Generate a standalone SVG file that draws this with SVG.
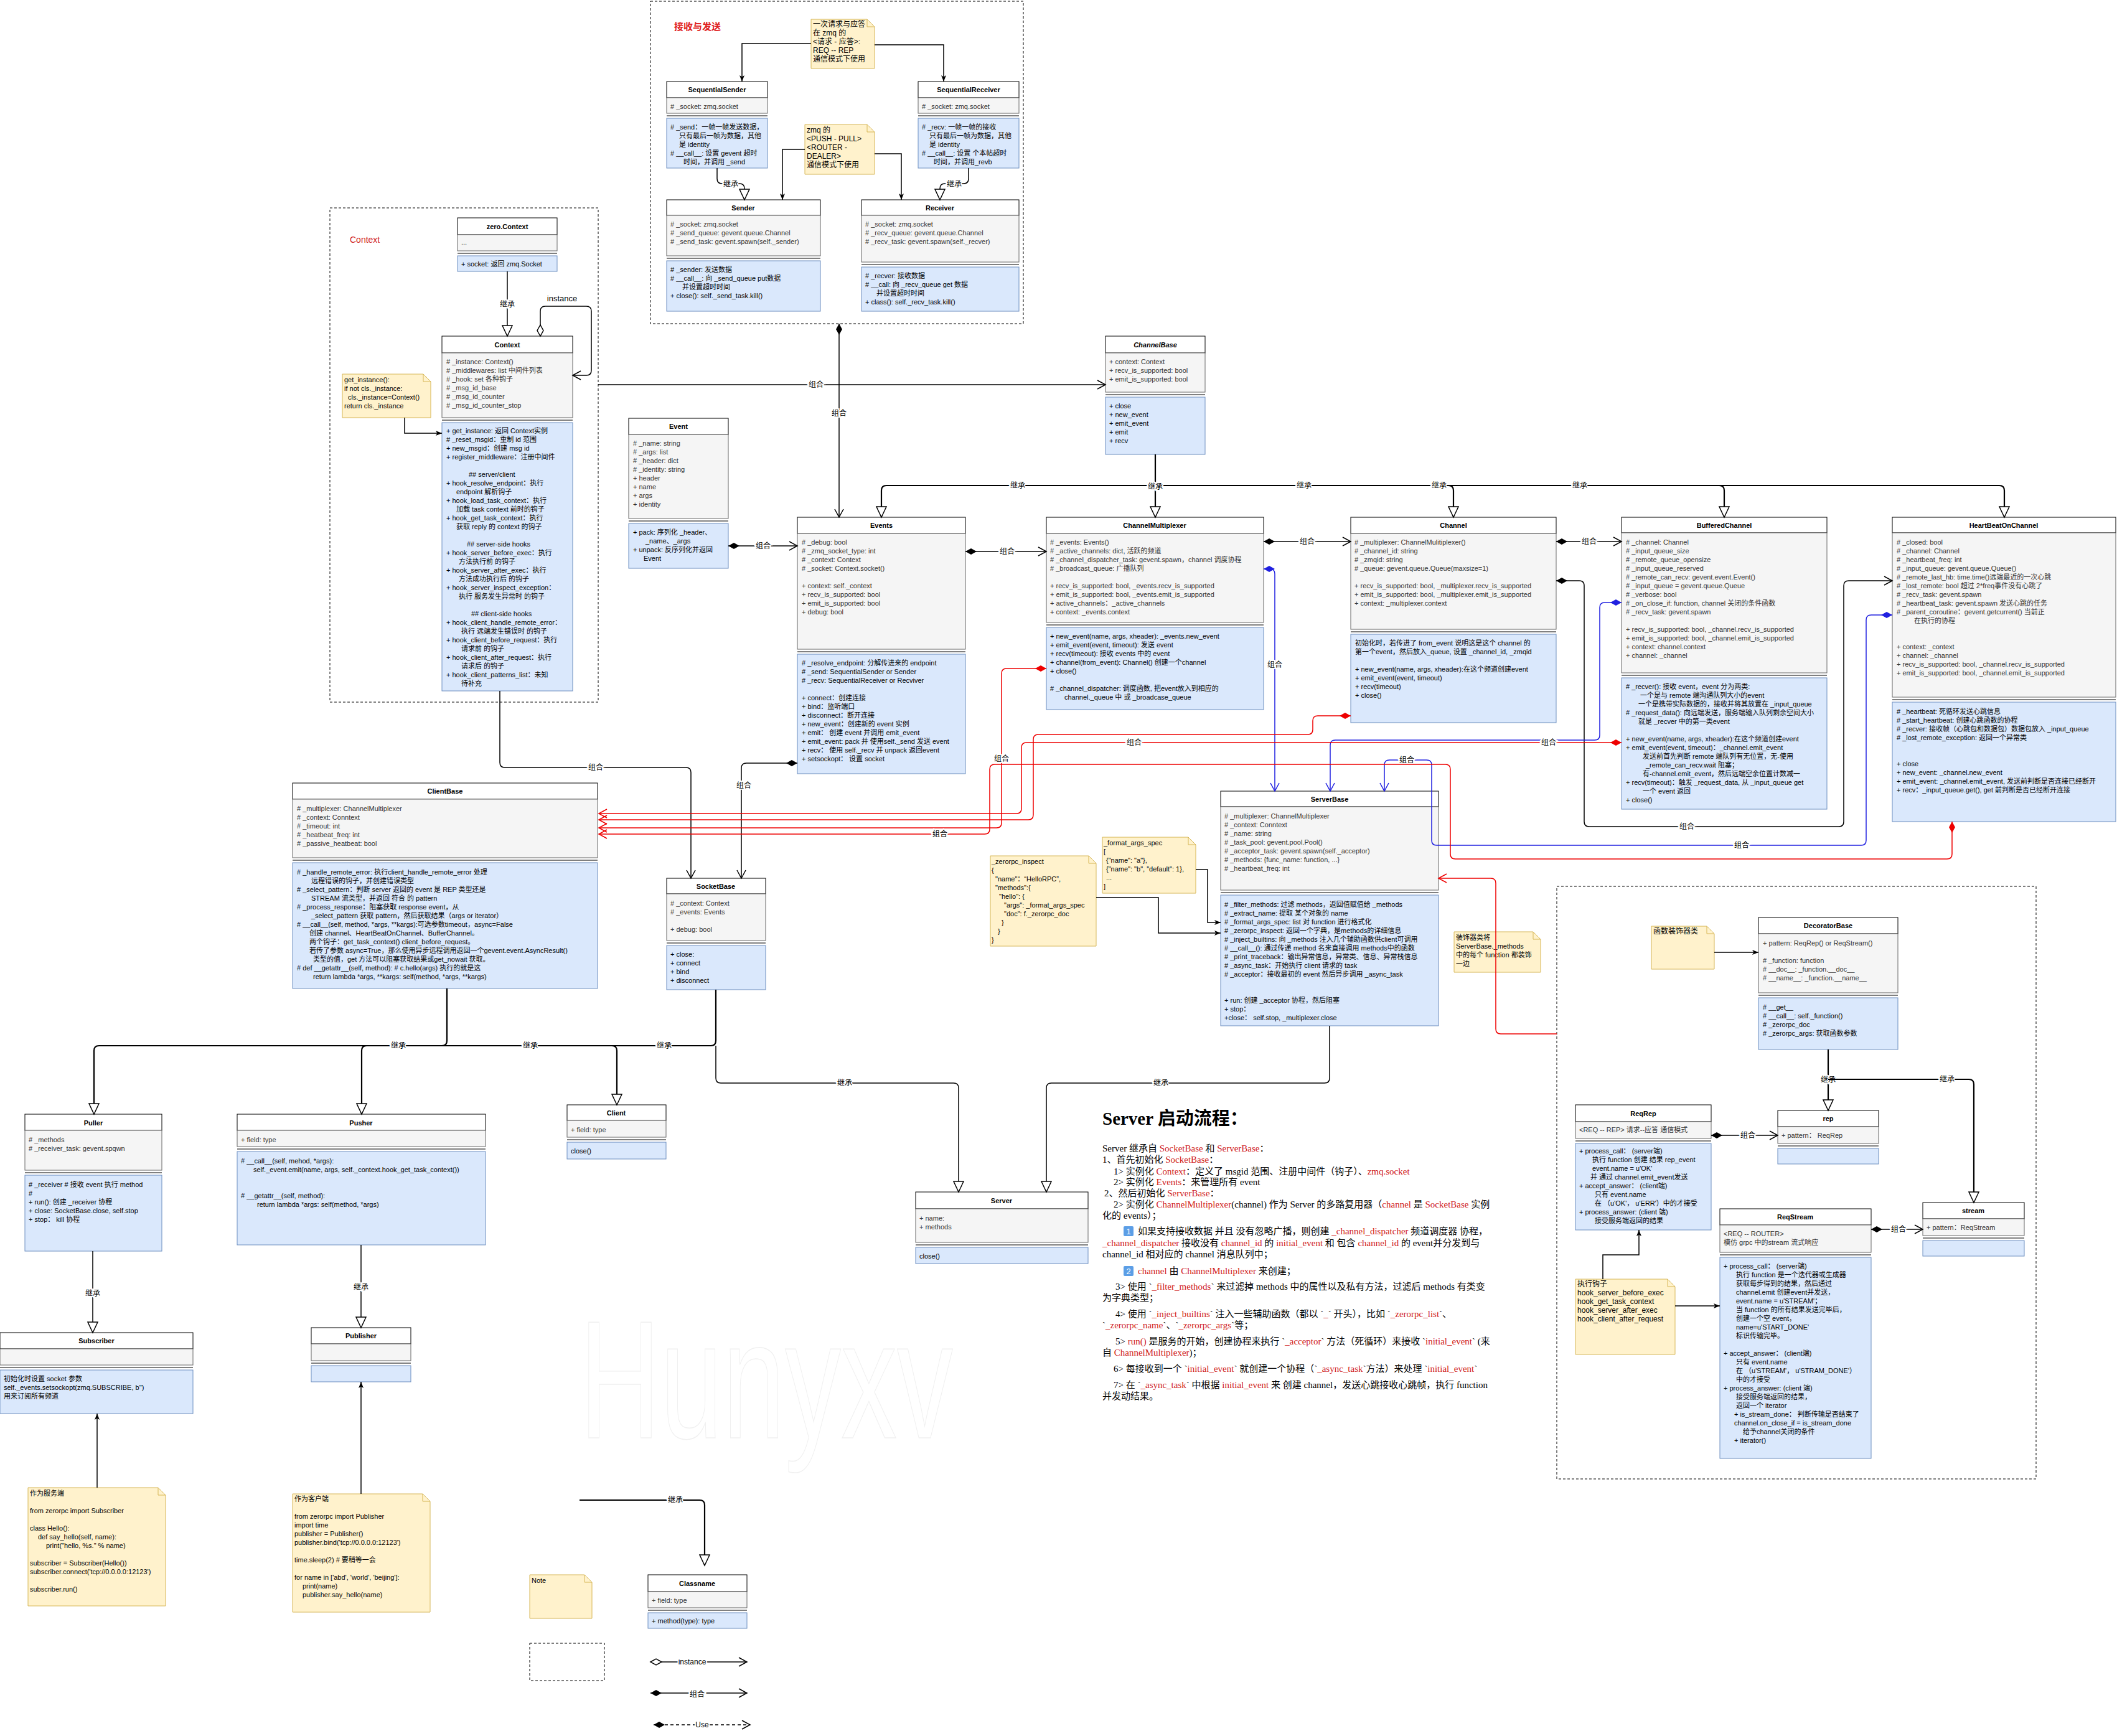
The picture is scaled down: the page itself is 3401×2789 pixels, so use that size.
<svg xmlns="http://www.w3.org/2000/svg" width="3401" height="2789" viewBox="0 0 3401 2789">
<defs>
<style>
.h{fill:#fff;stroke:#000;stroke-width:1}
.a{fill:#f5f5f5;stroke:#666;stroke-width:1}
.m{fill:#dae8fc;stroke:#6c8ebf;stroke-width:1}
.sp{fill:#fff;stroke:none}
.s{stroke:#000;stroke-width:1}
.n{fill:#fff2cc;stroke:#d6b656;stroke-width:1}
.g{fill:none;stroke:#000;stroke-width:1;stroke-dasharray:4 3}
text{font-family:"Liberation Sans","Noto Sans CJK SC",sans-serif;font-size:11px}
.ta{fill:#333}
.tm{fill:#000}
.tt{font-weight:bold;text-anchor:middle;fill:#000}
.e{fill:none;stroke:#000;stroke-width:1.5}
.ek{fill:none;stroke:#000;stroke-width:2.2}
.er{fill:none;stroke:#e00;stroke-width:1.5}
.eb{fill:none;stroke:#2020e0;stroke-width:1.5}
.lb{font-size:12px;text-anchor:middle;fill:#000;stroke:#fff;stroke-width:4;paint-order:stroke;dominant-baseline:central}
.bt{font-family:"Liberation Serif","Noto Sans CJK SC",serif;font-size:15px;fill:#000}
.r{fill:#d02020}
</style>
<marker id="tri" markerUnits="userSpaceOnUse" markerWidth="22" markerHeight="20" refX="18" refY="9" orient="auto" overflow="visible"><path d="M1,1 L18,9 L1,17 Z" fill="#fff" stroke="#000" stroke-width="1.5"/></marker>
<marker id="oa" markerUnits="userSpaceOnUse" markerWidth="18" markerHeight="16" refX="14" refY="7" orient="auto" overflow="visible"><path d="M1,0 L14,7 L1,14" fill="none" stroke="#000" stroke-width="1.5"/></marker>
<marker id="oar" markerUnits="userSpaceOnUse" markerWidth="18" markerHeight="16" refX="14" refY="7" orient="auto" overflow="visible"><path d="M1,0 L14,7 L1,14" fill="none" stroke="#e00" stroke-width="1.5"/></marker>
<marker id="oab" markerUnits="userSpaceOnUse" markerWidth="18" markerHeight="16" refX="14" refY="7" orient="auto" overflow="visible"><path d="M1,0 L14,7 L1,14" fill="none" stroke="#2020e0" stroke-width="1.5"/></marker>
<marker id="fd" markerUnits="userSpaceOnUse" markerWidth="20" markerHeight="12" refX="0" refY="5" orient="auto" overflow="visible"><path d="M0,5 L9,0 L18,5 L9,10 Z" fill="#000"/></marker>
<marker id="fdr" markerUnits="userSpaceOnUse" markerWidth="20" markerHeight="12" refX="0" refY="5" orient="auto" overflow="visible"><path d="M0,5 L9,0 L18,5 L9,10 Z" fill="#e00"/></marker>
<marker id="fdb" markerUnits="userSpaceOnUse" markerWidth="20" markerHeight="12" refX="0" refY="5" orient="auto" overflow="visible"><path d="M0,5 L9,0 L18,5 L9,10 Z" fill="#2020e0"/></marker>
<marker id="od" markerUnits="userSpaceOnUse" markerWidth="20" markerHeight="12" refX="0" refY="5" orient="auto" overflow="visible"><path d="M0,5 L9,0 L18,5 L9,10 Z" fill="#fff" stroke="#000" stroke-width="1.5"/></marker>
<marker id="ac" markerUnits="userSpaceOnUse" markerWidth="12" markerHeight="10" refX="10" refY="4" orient="auto" overflow="visible"><path d="M0,0 L10,4 L0,8 L2.5,4 Z" fill="#000"/></marker>
<clipPath id="c1"><rect x="1071" y="190" width="162" height="80"/></clipPath>
<clipPath id="c2"><rect x="1475" y="190" width="162" height="80"/></clipPath>
<clipPath id="c3"><rect x="1281" y="1051" width="270" height="192"/></clipPath>
<clipPath id="c4"><rect x="1961" y="1438" width="350" height="210"/></clipPath>
<clipPath id="c5"><rect x="2605" y="1089" width="330" height="211"/></clipPath>
<clipPath id="c6"><rect x="2763" y="2020" width="243" height="323"/></clipPath>
<clipPath id="c7"><rect x="1303" y="31" width="102" height="79"/></clipPath>
</defs>
<rect width="3401" height="2789" fill="#fff"/>

<!-- groups -->
<g id="grp-sendrecv"><rect class="g" x="1045" y="2" width="599" height="518"/><text x="1083" y="48" style="font-size:15px;font-weight:bold;fill:#e02020">接收与发送</text></g>
<g id="grp-context"><rect class="g" x="530" y="334" width="431" height="794"/><text x="562" y="390" style="font-size:14px;fill:#d02020">Context</text></g>
<g id="grp-decorator"><rect class="g" x="2501" y="1424" width="770" height="952"/></g>
<text x="1231" y="2310" text-anchor="middle" textLength="600" lengthAdjust="spacingAndGlyphs" style="font-size:270px;fill:#fff;stroke:#f0f0f0;stroke-width:1.5">Hunyxv</text>

<!-- notes -->
<g id="note-reqrep"><path class="n" d="M1303,31 H1393 L1405,43 V110 H1303 Z"/><path d="M1393,31 V43 H1405" fill="none" stroke="#d6b656"/><text class="tm" style="font-size:12px" clip-path="url(#c7)"><tspan x="1306" y="43">一次请求与应答</tspan><tspan x="1306" dy="14">在 zmq 的</tspan><tspan x="1306" dy="14">&lt;请求 - 应答&gt;:</tspan><tspan x="1306" dy="14">REQ -- REP</tspan><tspan x="1306" dy="14">通信模式下使用</tspan></text></g>
<g id="note-pushpull"><path class="n" d="M1293,200 H1393 L1405,212 V280 H1293 Z"/><path d="M1393,200 V212 H1405" fill="none" stroke="#d6b656"/><text class="tm" style="font-size:12px"><tspan x="1296" y="213">zmq 的</tspan><tspan x="1296" dy="14">&lt;PUSH - PULL&gt;</tspan><tspan x="1296" dy="14">&lt;ROUTER -</tspan><tspan x="1296" dy="14">DEALER&gt;</tspan><tspan x="1296" dy="14">通信模式下使用</tspan></text></g>
<g id="note-getinstance"><path class="n" d="M550,601 H680 L692,613 V671 H550 Z"/><path d="M680,601 V613 H692" fill="none" stroke="#d6b656"/><text class="tm"><tspan x="553" y="614">get_instance():</tspan><tspan x="553" dy="14">if not cls._instance:</tspan><tspan x="559" dy="14">cls._instance=Context()</tspan><tspan x="553" dy="14">return cls._instance</tspan></text></g>
<g id="note-formatargs"><path class="n" d="M1771,1345 H1909 L1921,1357 V1435 H1771 Z"/><path d="M1909,1345 V1357 H1921" fill="none" stroke="#d6b656"/><text class="tm"><tspan x="1773" y="1358">_format_args_spec</tspan><tspan x="1773" dy="14">[</tspan><tspan x="1777" dy="14">{"name": "a"},</tspan><tspan x="1777" dy="14">{"name": "b", "default": 1},</tspan><tspan x="1777" dy="14">...</tspan><tspan x="1773" dy="14">]</tspan></text></g>
<g id="note-inspect"><path class="n" d="M1591,1375 H1749 L1761,1387 V1520 H1591 Z"/><path d="M1749,1375 V1387 H1761" fill="none" stroke="#d6b656"/><text class="tm"><tspan x="1593" y="1388">_zerorpc_inspect</tspan><tspan x="1593" dy="14">{</tspan><tspan x="1599" dy="14">"name"：“HelloRPC”,</tspan><tspan x="1599" dy="14">"methods":{</tspan><tspan x="1605" dy="14">"hello": {</tspan><tspan x="1613" dy="14">"args": _format_args_spec</tspan><tspan x="1613" dy="14">"doc": f._zerorpc_doc</tspan><tspan x="1609" dy="14">}</tspan><tspan x="1603" dy="14">}</tspan><tspan x="1593" dy="14">}</tspan></text></g>
<g id="note-decorate"><path class="n" d="M2336,1497 H2463 L2475,1509 V1562 H2336 Z"/><path d="M2463,1497 V1509 H2475" fill="none" stroke="#d6b656"/><text class="tm"><tspan x="2339" y="1510">装饰器类将</tspan><tspan x="2339" dy="14">ServerBase._methods</tspan><tspan x="2339" dy="14">中的每个 function 都装饰</tspan><tspan x="2339" dy="14">一边</tspan></text></g>
<g id="note-funcdeco"><path class="n" d="M2653,1488 H2742 L2754,1500 V1557 H2653 Z"/><path d="M2742,1488 V1500 H2754" fill="none" stroke="#d6b656"/><text class="tm" style="font-size:12px"><tspan x="2656" y="1500">函数装饰器类</tspan></text></g>
<g id="note-hooks"><path class="n" d="M2531,2055 H2679 L2691,2067 V2176 H2531 Z"/><path d="M2679,2055 V2067 H2691" fill="none" stroke="#d6b656"/><text class="tm" style="font-size:12px"><tspan x="2534" y="2067">执行钩子</tspan><tspan x="2534" dy="14">hook_server_before_exec</tspan><tspan x="2534" dy="14">hook_get_task_context</tspan><tspan x="2534" dy="14">hook_server_after_exec</tspan><tspan x="2534" dy="14">hook_client_after_request</tspan></text></g>
<g id="note-server"><path class="n" d="M45,2390 H254 L266,2402 V2580 H45 Z"/><path d="M254,2390 V2402 H266" fill="none" stroke="#d6b656"/><text class="tm"><tspan x="48" y="2403">作为服务端</tspan><tspan x="48" dy="28">from zerorpc import Subscriber</tspan><tspan x="48" dy="28">class Hello():</tspan><tspan x="61" dy="14">def say_hello(self, name):</tspan><tspan x="74" dy="14">print("hello, %s." % name)</tspan><tspan x="48" dy="28">subscriber = Subscriber(Hello())</tspan><tspan x="48" dy="14">subscriber.connect('tcp://0.0.0.0:12123')</tspan><tspan x="48" dy="28">subscriber.run()</tspan></text></g>
<g id="note-client"><path class="n" d="M470,2400 H679 L691,2412 V2590 H470 Z"/><path d="M679,2400 V2412 H691" fill="none" stroke="#d6b656"/><text class="tm"><tspan x="473" y="2412">作为客户端</tspan><tspan x="473" dy="28">from zerorpc import Publisher</tspan><tspan x="473" dy="14">import time</tspan><tspan x="473" dy="14">publisher = Publisher()</tspan><tspan x="473" dy="14">publisher.bind('tcp://0.0.0.0:12123')</tspan><tspan x="473" dy="28">time.sleep(2)  # 要稍等一会</tspan><tspan x="473" dy="28">for name in ['abd', 'world', 'beijing']:</tspan><tspan x="486" dy="14">print(name)</tspan><tspan x="486" dy="14">publisher.say_hello(name)</tspan></text></g>
<g id="note-legend"><path class="n" d="M851,2530 H939 L951,2542 V2600 H851 Z"/><path d="M939,2530 V2542 H951" fill="none" stroke="#d6b656"/><text class="tm"><tspan x="854" y="2543">Note</tspan></text></g>
<g id="legend-dashed"><rect class="g" x="851" y="2640" width="120" height="60"/></g>

<!-- classes -->
<g id="n-SequentialSender"><rect class="h" x="1071" y="131" width="162" height="26"/><rect class="a" x="1071" y="157" width="162" height="25"/><line class="s" x1="1071" y1="186" x2="1233" y2="186"/><rect class="m" x="1071" y="190" width="162" height="80"/><text class="tt" x="1152" y="148">SequentialSender</text><text class="ta" x="1077" y="175"># _socket: zmq.socket</text><text class="tm" clip-path="url(#c1)"><tspan x="1077" y="208"># _send：一帧一帧发送数据，</tspan><tspan x="1091" dy="14">只有最后一帧为数据，其他</tspan><tspan x="1091" dy="14">是 identity</tspan><tspan x="1077" dy="14"># __call__: 设置 gevent 超时</tspan><tspan x="1098" dy="14">时间，并调用 _send</tspan></text></g>
<g id="n-SequentialReceiver"><rect class="h" x="1475" y="131" width="162" height="26"/><rect class="a" x="1475" y="157" width="162" height="25"/><line class="s" x1="1475" y1="186" x2="1637" y2="186"/><rect class="m" x="1475" y="190" width="162" height="80"/><text class="tt" x="1556" y="148">SequentialReceiver</text><text class="ta" x="1481" y="175"># _socket: zmq.socket</text><text class="tm" clip-path="url(#c2)"><tspan x="1481" y="208"># _recv: 一帧一帧的接收</tspan><tspan x="1493" dy="14">只有最后一帧为数据，其他</tspan><tspan x="1493" dy="14">是 identity</tspan><tspan x="1481" dy="14"># __call__: 设置 个本帖超时</tspan><tspan x="1500" dy="14">时间，并调用_revb</tspan></text></g>
<g id="n-Sender"><rect class="h" x="1071" y="321" width="247" height="25"/><rect class="a" x="1071" y="346" width="247" height="65"/><line class="s" x1="1071" y1="415" x2="1318" y2="415"/><rect class="m" x="1071" y="419" width="247" height="81"/><text class="tt" x="1194" y="338">Sender</text><text class="ta"><tspan x="1077" y="364"># _socket: zmq.socket</tspan><tspan x="1077" dy="14"># _send_queue: gevent.queue.Channel</tspan><tspan x="1077" dy="14"># _send_task: gevent.spawn(self._sender)</tspan></text><text class="tm"><tspan x="1077" y="437"># _sender: 发送数据</tspan><tspan x="1077" dy="14"># __call__: 向 _send_queue put数据</tspan><tspan x="1096" dy="14">并设置超时时间</tspan><tspan x="1077" dy="14">+ close(): self._send_task.kill()</tspan></text></g>
<g id="n-Receiver"><rect class="h" x="1384" y="321" width="253" height="25"/><rect class="a" x="1384" y="346" width="253" height="75"/><line class="s" x1="1384" y1="425" x2="1637" y2="425"/><rect class="m" x="1384" y="429" width="253" height="71"/><text class="tt" x="1510" y="338">Receiver</text><text class="ta"><tspan x="1390" y="364"># _socket: zmq.socket</tspan><tspan x="1390" dy="14"># _recv_queue: gevent.queue.Channel</tspan><tspan x="1390" dy="14"># _recv_task: gevent.spawn(self._recver)</tspan></text><text class="tm"><tspan x="1390" y="447"># _recver: 接收数据</tspan><tspan x="1390" dy="14"># __call: 向 _recv_queue get 数据</tspan><tspan x="1408" dy="14">并设置超时时间</tspan><tspan x="1390" dy="14">+ class(): self._recv_task.kill()</tspan></text></g>
<g id="n-zeroContext"><rect class="h" x="735" y="350" width="160" height="27"/><rect class="a" x="735" y="377" width="160" height="26"/><line class="s" x1="735" y1="407" x2="895" y2="407"/><rect class="m" x="735" y="411" width="160" height="25"/><text class="tt" x="815" y="368">zero.Context</text><text class="ta" x="741" y="393">...</text><text class="tm" x="741" y="428">+ socket: 返回 zmq.Socket</text></g>
<g id="n-Context"><rect class="h" x="710" y="540" width="210" height="27"/><rect class="a" x="710" y="567" width="210" height="104"/><line class="s" x1="710" y1="675" x2="920" y2="675"/><rect class="m" x="710" y="679" width="210" height="431"/><text class="tt" x="815" y="558">Context</text><text class="ta"><tspan x="717" y="585"># _instance: Context()</tspan><tspan x="717" dy="14"># _middlewares: list 中间件列表</tspan><tspan x="717" dy="14"># _hook: set 各种钩子</tspan><tspan x="717" dy="14"># _msg_id_base</tspan><tspan x="717" dy="14"># _msg_id_counter</tspan><tspan x="717" dy="14"># _msg_id_counter_stop</tspan></text><text class="tm"><tspan x="717" y="696">+ get_instance: 返回 Context实例</tspan><tspan x="717" dy="14">#  _reset_msgid：重制 id 范围</tspan><tspan x="717" dy="14">+ new_msgid：创建 msg id</tspan><tspan x="717" dy="14">+ register_middleware：注册中间件</tspan><tspan x="753" dy="28">## server/client</tspan><tspan x="717" dy="14">+ hook_resolve_endpoint：执行</tspan><tspan x="733" dy="14">endpoint 解析钩子</tspan><tspan x="717" dy="14">+ hook_load_task_context：执行</tspan><tspan x="733" dy="14">加载 task context 前时的钩子</tspan><tspan x="717" dy="14">+ hook_get_task_context：执行</tspan><tspan x="733" dy="14">获取 reply 的 context 的钩子</tspan><tspan x="750" dy="28">## server-side hooks</tspan><tspan x="717" dy="14">+  hook_server_before_exec：执行</tspan><tspan x="737" dy="14">方法执行前 的钩子</tspan><tspan x="717" dy="14">+ hook_server_after_exec：执行</tspan><tspan x="737" dy="14">方法成功执行后 的钩子</tspan><tspan x="717" dy="14">+ hook_server_inspect_exception：</tspan><tspan x="737" dy="14">执行 服务发生异常时 的钩子</tspan><tspan x="757" dy="28">## client-side hooks</tspan><tspan x="717" dy="14">+ hook_client_handle_remote_error：</tspan><tspan x="741" dy="14">执行 远端发生错误时 的钩子</tspan><tspan x="717" dy="14">+ hook_client_before_request：执行</tspan><tspan x="741" dy="14">请求前 的钩子</tspan><tspan x="717" dy="14">+ hook_client_after_request：执行</tspan><tspan x="741" dy="14">请求后 的钩子</tspan><tspan x="717" dy="14">+ hook_client_patterns_list：未知</tspan><tspan x="741" dy="14">待补充</tspan></text></g>
<g id="n-Event"><rect class="h" x="1010" y="672" width="160" height="26"/><rect class="a" x="1010" y="698" width="160" height="135"/><line class="s" x1="1010" y1="837" x2="1170" y2="837"/><rect class="m" x="1010" y="841" width="160" height="72"/><text class="tt" x="1090" y="689">Event</text><text class="ta"><tspan x="1017" y="716"># _name: string</tspan><tspan x="1017" dy="14"># _args: list</tspan><tspan x="1017" dy="14"># _header: dict</tspan><tspan x="1017" dy="14"># _identity: string</tspan><tspan x="1017" dy="14">+ header</tspan><tspan x="1017" dy="14">+ name</tspan><tspan x="1017" dy="14">+ args</tspan><tspan x="1017" dy="14">+ identity</tspan></text><text class="tm"><tspan x="1017" y="859">+ pack: 序列化 _header、</tspan><tspan x="1037" dy="14">_name、_args</tspan><tspan x="1017" dy="14">+ unpack: 反序列化并返回</tspan><tspan x="1034" dy="14">Event</tspan></text></g>
<g id="n-Events"><rect class="h" x="1281" y="831" width="270" height="26"/><rect class="a" x="1281" y="857" width="270" height="186"/><line class="s" x1="1281" y1="1047" x2="1551" y2="1047"/><rect class="m" x="1281" y="1051" width="270" height="192"/><text class="tt" x="1416" y="848">Events</text><text class="ta"><tspan x="1288" y="875"># _debug: bool</tspan><tspan x="1288" dy="14"># _zmq_socket_type: int</tspan><tspan x="1288" dy="14"># _context: Context</tspan><tspan x="1288" dy="14"># _socket: Context.socket()</tspan><tspan x="1288" dy="28">+ context: self._context</tspan><tspan x="1288" dy="14">+ recv_is_supported: bool</tspan><tspan x="1288" dy="14">+ emit_is_supported: bool</tspan><tspan x="1288" dy="14">+ debug: bool</tspan></text><text class="tm" clip-path="url(#c3)"><tspan x="1288" y="1069"># _resolve_endpoint: 分解传进来的 endpoint</tspan><tspan x="1288" dy="14"># _send: SequentialSender or Sender</tspan><tspan x="1288" dy="14"># _recv: SequentialReceiver or Recviver</tspan><tspan x="1288" dy="28">+ connect：创建连接</tspan><tspan x="1288" dy="14">+ bind：监听端口</tspan><tspan x="1288" dy="14">+ disconnect：断开连接</tspan><tspan x="1288" dy="14">+ new_event：创建新的 event 实例</tspan><tspan x="1288" dy="14">+ emit：  创建 event 并调用 emit_event</tspan><tspan x="1288" dy="14">+ emit_event:  pack 并 使用self._send 发送 event</tspan><tspan x="1288" dy="14">+ recv：  使用 self._recv 并 unpack 返回event</tspan><tspan x="1288" dy="14">+ setsockopt：  设置 socket</tspan></text></g>
<g id="n-ChannelBase"><rect class="h" x="1776" y="540" width="160" height="27"/><rect class="a" x="1776" y="567" width="160" height="63"/><line class="s" x1="1776" y1="634" x2="1936" y2="634"/><rect class="m" x="1776" y="638" width="160" height="92"/><text class="tt" x="1856" y="558" font-style="italic">ChannelBase</text><text class="ta"><tspan x="1782" y="585">+ context: Context</tspan><tspan x="1782" dy="14">+ recv_is_supported: bool</tspan><tspan x="1782" dy="14">+ emit_is_supported: bool</tspan></text><text class="tm"><tspan x="1782" y="656">+ close</tspan><tspan x="1782" dy="14">+ new_event</tspan><tspan x="1782" dy="14">+ emit_event</tspan><tspan x="1782" dy="14">+ emit</tspan><tspan x="1782" dy="14">+ recv</tspan></text></g>
<g id="n-ChannelMultiplexer"><rect class="h" x="1681" y="831" width="349" height="26"/><rect class="a" x="1681" y="857" width="349" height="143"/><line class="s" x1="1681" y1="1004" x2="2030" y2="1004"/><rect class="m" x="1681" y="1008" width="349" height="132"/><text class="tt" x="1855" y="848">ChannelMultiplexer</text><text class="ta"><tspan x="1687" y="875"># _events: Events()</tspan><tspan x="1687" dy="14"># _active_channels: dict, 活跃的频道</tspan><tspan x="1687" dy="14"># _channel_dispatcher_task: gevent.spawn，channel 调度协程</tspan><tspan x="1687" dy="14"># _broadcast_queue: 广播队列</tspan><tspan x="1687" dy="28">+ recv_is_supported: bool, _events.recv_is_supported</tspan><tspan x="1687" dy="14">+ emit_is_supported: bool, _events.emit_is_supported</tspan><tspan x="1687" dy="14">+ active_channels：_active_channels</tspan><tspan x="1687" dy="14">+ context: _events.context</tspan></text><text class="tm"><tspan x="1687" y="1026">+ new_event(name, args, xheader): _events.new_event</tspan><tspan x="1687" dy="14">+ emit_event(event, timeout): 发送 event</tspan><tspan x="1687" dy="14">+ recv(timeout): 接收 events 中的 event</tspan><tspan x="1687" dy="14">+ channel(from_event): Channel() 创建一个channel</tspan><tspan x="1687" dy="14">+ close()</tspan><tspan x="1687" dy="28"># _channel_dispatcher: 调度函数, 把event放入到相应的</tspan><tspan x="1710" dy="14">channel._queue 中 或 _broadcase_queue</tspan></text></g>
<g id="n-Channel"><rect class="h" x="2170" y="831" width="330" height="26"/><rect class="a" x="2170" y="857" width="330" height="154"/><line class="s" x1="2170" y1="1015" x2="2500" y2="1015"/><rect class="m" x="2170" y="1019" width="330" height="142"/><text class="tt" x="2335" y="848">Channel</text><text class="ta"><tspan x="2176" y="875"># _multiplexer: ChannelMulitiplexer()</tspan><tspan x="2176" dy="14"># _channel_id: string</tspan><tspan x="2176" dy="14"># _zmqid: string</tspan><tspan x="2176" dy="14"># _queue: gevent.queue.Queue(maxsize=1)</tspan><tspan x="2176" dy="28">+ recv_is_supported: bool, _multiplexer.recv_is_supported</tspan><tspan x="2176" dy="14">+ emit_is_supported: bool, _multiplexer.emit_is_supported</tspan><tspan x="2176" dy="14">+ context: _multiplexer.context</tspan></text><text class="tm"><tspan x="2177" y="1037">初始化时，若传进了 from_event 说明这是这个 channel 的</tspan><tspan x="2177" dy="14">第一个event，然后放入_queue, 设置 _channel_id, _zmqid</tspan><tspan x="2177" dy="28">+ new_event(name, args, xheader):在这个频道创建event</tspan><tspan x="2177" dy="14">+ emit_event(event, timeout)</tspan><tspan x="2177" dy="14">+ recv(timeout)</tspan><tspan x="2177" dy="14">+ close()</tspan></text></g>
<g id="n-BufferedChannel"><rect class="h" x="2605" y="831" width="330" height="25"/><rect class="a" x="2605" y="856" width="330" height="225"/><line class="s" x1="2605" y1="1085" x2="2935" y2="1085"/><rect class="m" x="2605" y="1089" width="330" height="211"/><text class="tt" x="2770" y="848">BufferedChannel</text><text class="ta"><tspan x="2612" y="875"># _channel: Channel</tspan><tspan x="2612" dy="14"># _input_queue_size</tspan><tspan x="2612" dy="14"># _remote_queue_opensize</tspan><tspan x="2612" dy="14"># _input_queue_reserved</tspan><tspan x="2612" dy="14"># _remote_can_recv: gevent.event.Event()</tspan><tspan x="2612" dy="14"># _input_queue = gevent.queue.Queue</tspan><tspan x="2612" dy="14"># _verbose: bool</tspan><tspan x="2612" dy="14"># _on_close_if: function, channel 关闭的条件函数</tspan><tspan x="2612" dy="14"># _recv_task: gevent.spawn</tspan><tspan x="2612" dy="28">+ recv_is_supported: bool, _channel.recv_is_supported</tspan><tspan x="2612" dy="14">+ emit_is_supported: bool, _channel.emit_is_supported</tspan><tspan x="2612" dy="14">+ context: channel.context</tspan><tspan x="2612" dy="14">+ channel: _channel</tspan></text><text class="tm" clip-path="url(#c5)"><tspan x="2612" y="1107"># _recver(): 接收 event，event 分为两类:</tspan><tspan x="2635" dy="14">一个是与 remote 端沟通队列大小的event</tspan><tspan x="2632" dy="14">一个是携带实际数据的，接收并将其放置在 _input_queue</tspan><tspan x="2612" dy="14"># _request_data(): 向远端发送，服务端输入队列剩余空间大小</tspan><tspan x="2632" dy="14">就是 _recver 中的第一类event</tspan><tspan x="2612" dy="28">+ new_event(name, args, xheader):在这个频道创建event</tspan><tspan x="2612" dy="14">+ emit_event(event, timeout)：_channel.emit_event</tspan><tspan x="2639" dy="14">发送前首先判断 remote 端队列有无位置，无-使用</tspan><tspan x="2644" dy="14">_remote_can_recv.wait 阻塞；</tspan><tspan x="2639" dy="14">有-channel.emit_event，然后远端空余位置计数减一</tspan><tspan x="2612" dy="14">+ recv(timeout)：触发 _request_data, 从 _input_queue get</tspan><tspan x="2639" dy="14">一个 event 返回</tspan><tspan x="2612" dy="14">+ close()</tspan></text></g>
<g id="n-HeartBeatOnChannel"><rect class="h" x="3040" y="831" width="359" height="25"/><rect class="a" x="3040" y="856" width="359" height="264"/><line class="s" x1="3040" y1="1124" x2="3399" y2="1124"/><rect class="m" x="3040" y="1128" width="359" height="192"/><text class="tt" x="3219" y="848">HeartBeatOnChannel</text><text class="ta"><tspan x="3047" y="875"># _closed: bool</tspan><tspan x="3047" dy="14"># _channel: Channel</tspan><tspan x="3047" dy="14"># _heartbeat_freq: int</tspan><tspan x="3047" dy="14"># _input_queue: gevent.queue.Queue()</tspan><tspan x="3047" dy="14"># _remote_last_hb: time.time()远端最近的一次心跳</tspan><tspan x="3047" dy="14"># _lost_remote: bool  超过 2*freq事件没有心跳了</tspan><tspan x="3047" dy="14"># _recv_task: gevent.spawn</tspan><tspan x="3047" dy="14"># _heartbeat_task: gevent.spawn 发送心跳的任务</tspan><tspan x="3047" dy="14"># _parent_coroutine：gevent.getcurrent() 当前正</tspan><tspan x="3075" dy="14">在执行的协程</tspan><tspan x="3047" dy="42">+ context: _context</tspan><tspan x="3047" dy="14">+ channel: _channel</tspan><tspan x="3047" dy="14">+ recv_is_supported: bool, _channel.recv_is_supported</tspan><tspan x="3047" dy="14">+ emit_is_supported: bool, _channel.emit_is_supported</tspan></text><text class="tm"><tspan x="3047" y="1147"># _heartbeat: 死循环发送心跳信息</tspan><tspan x="3047" dy="14"># _start_heartbeat: 创建心跳函数的协程</tspan><tspan x="3047" dy="14"># _recver: 接收帧（心跳包和数据包）数据包放入 _input_queue</tspan><tspan x="3047" dy="14">#  _lost_remote_exception: 返回一个异常类</tspan><tspan x="3047" dy="42">+ close</tspan><tspan x="3047" dy="14">+ new_event: _channel.new_event</tspan><tspan x="3047" dy="14">+ emit_event: _channel.emit_event, 发送前判断是否连接已经断开</tspan><tspan x="3047" dy="14">+ recv：_input_queue.get(), get 前判断是否已经断开连接</tspan></text></g>
<g id="n-ClientBase"><rect class="h" x="470" y="1258" width="490" height="26"/><rect class="a" x="470" y="1284" width="490" height="94"/><line class="s" x1="470" y1="1382" x2="960" y2="1382"/><rect class="m" x="470" y="1386" width="490" height="202"/><text class="tt" x="715" y="1275">ClientBase</text><text class="ta"><tspan x="477" y="1303"># _multiplexer: ChannelMultiplexer</tspan><tspan x="477" dy="14"># _context: Conntext</tspan><tspan x="477" dy="14"># _timeout: int</tspan><tspan x="477" dy="14"># _heatbeat_freq: int</tspan><tspan x="477" dy="14"># _passive_heatbeat: bool</tspan></text><text class="tm"><tspan x="477" y="1405"># _handle_remote_error: 执行client_handle_remote_error 处理</tspan><tspan x="500" dy="14">远程错误的钩子，并创建错误类型</tspan><tspan x="477" dy="14"># _select_pattern：判断 server 返回的 event 是 REP 类型还是</tspan><tspan x="500" dy="14">STREAM 流类型，并返回 符合 的 pattern</tspan><tspan x="477" dy="14"># _process_response：阻塞获取 response event，从</tspan><tspan x="500" dy="14">_select_pattern 获取 pattern，然后获取结果（args or iterator）</tspan><tspan x="477" dy="14"># __call__(self, method, *args, **kargs):可选参数timeout，async=False</tspan><tspan x="497" dy="14">创建 channel、HeartBeatOnChannel、BufferChannel。</tspan><tspan x="497" dy="14">两个钩子：get_task_context() client_before_request。</tspan><tspan x="497" dy="14">若传了参数 async=True，那么使用异步远程调用返回一个gevent.event.AsyncResult()</tspan><tspan x="503" dy="14">类型的值，get 方法可以阻塞获取结果或get_nowait 获取。</tspan><tspan x="477" dy="14"># def __getattr__(self, method):    # c.hello(args) 执行的就是这</tspan><tspan x="503" dy="14">return lambda *args, **kargs: self(method, *args, **kargs)</tspan></text></g>
<g id="n-SocketBase"><rect class="h" x="1071" y="1411" width="159" height="25"/><rect class="a" x="1071" y="1436" width="159" height="75"/><line class="s" x1="1071" y1="1515" x2="1230" y2="1515"/><rect class="m" x="1071" y="1519" width="159" height="71"/><text class="tt" x="1150" y="1428">SocketBase</text><text class="ta"><tspan x="1077" y="1455"># _context: Context</tspan><tspan x="1077" dy="14"># _events: Events</tspan><tspan x="1077" dy="28">+ debug: bool</tspan></text><text class="tm"><tspan x="1077" y="1537">+ close:</tspan><tspan x="1077" dy="14">+ connect</tspan><tspan x="1077" dy="14">+ bind</tspan><tspan x="1077" dy="14">+ disconnect</tspan></text></g>
<g id="n-ServerBase"><rect class="h" x="1961" y="1271" width="350" height="25"/><rect class="a" x="1961" y="1296" width="350" height="134"/><line class="s" x1="1961" y1="1434" x2="2311" y2="1434"/><rect class="m" x="1961" y="1438" width="350" height="210"/><text class="tt" x="2136" y="1288">ServerBase</text><text class="ta"><tspan x="1967" y="1315"># _multiplexer: ChannelMultiplexer</tspan><tspan x="1967" dy="14"># _context: Conntext</tspan><tspan x="1967" dy="14"># _name: string</tspan><tspan x="1967" dy="14"># _task_pool: gevent.pool.Pool()</tspan><tspan x="1967" dy="14"># _acceptor_task: gevent.spawn(self._acceptor)</tspan><tspan x="1967" dy="14"># _methods: {func_name: function, ...}</tspan><tspan x="1967" dy="14"># _heartbeat_freq: int</tspan></text><text class="tm" clip-path="url(#c4)"><tspan x="1967" y="1457"># _filter_methods: 过滤 methods，返回值赋值给 _methods</tspan><tspan x="1967" dy="14"># _extract_name: 提取 某个对象的 name</tspan><tspan x="1967" dy="14"># _format_args_spec: list 对 function 进行格式化</tspan><tspan x="1967" dy="14"># _zerorpc_inspect: 返回一个字典，是methods的详细信息</tspan><tspan x="1967" dy="14"># _inject_builtins: 向 _methods 注入几个辅助函数供client可调用</tspan><tspan x="1967" dy="14"># __call__(): 通过传递 method 名来直接调用 methods中的函数</tspan><tspan x="1967" dy="14"># _print_traceback：输出异常信息，异常类、信息、异常栈信息</tspan><tspan x="1967" dy="14"># _async_task：开始执行 client 请求的 task</tspan><tspan x="1967" dy="14"># _acceptor：接收最初的 event 然后异步调用 _async_task</tspan><tspan x="1967" dy="42">+ run: 创建 _acceptor 协程，然后阻塞</tspan><tspan x="1967" dy="14">+ stop：</tspan><tspan x="1967" dy="14">+close：  self.stop, _multiplexer.close</tspan></text></g>
<g id="n-Puller"><rect class="h" x="40" y="1790" width="220" height="26"/><rect class="a" x="40" y="1816" width="220" height="64"/><line class="s" x1="40" y1="1884" x2="260" y2="1884"/><rect class="m" x="40" y="1888" width="220" height="122"/><text class="tt" x="150" y="1808">Puller</text><text class="ta"><tspan x="46" y="1835"># _methods</tspan><tspan x="46" dy="14"># _receiver_task: gevent.spqwn</tspan></text><text class="tm"><tspan x="46" y="1907"># _receiver  # 接收 event 执行 method</tspan><tspan x="46" dy="14">#</tspan><tspan x="46" dy="14">+ run(): 创建 _receiver 协程</tspan><tspan x="46" dy="14">+ close: SocketBase.close, self.stop</tspan><tspan x="46" dy="14">+ stop：  kill 协程</tspan></text></g>
<g id="n-Pusher"><rect class="h" x="381" y="1790" width="399" height="26"/><rect class="a" x="381" y="1816" width="399" height="26"/><line class="s" x1="381" y1="1846" x2="780" y2="1846"/><rect class="m" x="381" y="1850" width="399" height="150"/><text class="tt" x="580" y="1808">Pusher</text><text class="ta" x="387" y="1835">+ field: type</text><text class="tm"><tspan x="387" y="1869"># __call__(self, mehod, *args):</tspan><tspan x="407" dy="14">self._event.emit(name, args, self._context.hook_get_task_context())</tspan><tspan x="387" dy="42"># __getattr__(self, method):</tspan><tspan x="413" dy="14">return lambda *args: self(method, *args)</tspan></text></g>
<g id="n-Client"><rect class="h" x="911" y="1775" width="159" height="25"/><rect class="a" x="911" y="1800" width="159" height="27"/><line class="s" x1="911" y1="1831" x2="1070" y2="1831"/><rect class="m" x="911" y="1835" width="159" height="27"/><text class="tt" x="990" y="1792">Client</text><text class="ta" x="917" y="1819">+ field: type</text><text class="tm" x="917" y="1853">close()</text></g>
<g id="n-Subscriber"><rect class="h" x="0" y="2141" width="310" height="26"/><rect class="a" x="0" y="2167" width="310" height="26"/><line class="s" x1="0" y1="2197" x2="310" y2="2197"/><rect class="m" x="0" y="2201" width="310" height="70"/><text class="tt" x="155" y="2158">Subscriber</text><text class="tm"><tspan x="6" y="2219">初始化时设置 socket 参数</tspan><tspan x="6" dy="14">self._events.setsockopt(zmq.SUBSCRIBE, b'')</tspan><tspan x="6" dy="14">用来订阅所有频道</tspan></text></g>
<g id="n-Publisher"><rect class="h" x="500" y="2133" width="160" height="26"/><rect class="a" x="500" y="2159" width="160" height="27"/><line class="s" x1="500" y1="2190" x2="660" y2="2190"/><rect class="m" x="500" y="2194" width="160" height="26"/><text class="tt" x="580" y="2150">Publisher</text></g>
<g id="n-Server"><rect class="h" x="1471" y="1915" width="277" height="27"/><rect class="a" x="1471" y="1942" width="277" height="54"/><line class="s" x1="1471" y1="2000" x2="1748" y2="2000"/><rect class="m" x="1471" y="2004" width="277" height="26"/><text class="tt" x="1609" y="1933">Server</text><text class="ta"><tspan x="1477" y="1961">+ name:</tspan><tspan x="1477" dy="14">+ methods</tspan></text><text class="tm" x="1477" y="2022">close()</text></g>
<g id="n-DecoratorBase"><rect class="h" x="2825" y="1474" width="224" height="26"/><rect class="a" x="2825" y="1500" width="224" height="95"/><line class="s" x1="2825" y1="1599" x2="3049" y2="1599"/><rect class="m" x="2825" y="1603" width="224" height="83"/><text class="tt" x="2937" y="1491">DecoratorBase</text><text class="ta"><tspan x="2832" y="1519">+ pattern: ReqRep() or ReqStream()</tspan><tspan x="2832" dy="28"># _function: function</tspan><tspan x="2832" dy="14"># __doc__: _function.__doc__</tspan><tspan x="2832" dy="14"># __name__: _function.__name__</tspan></text><text class="tm"><tspan x="2832" y="1622"># __get__</tspan><tspan x="2832" dy="14"># __call__: self._function()</tspan><tspan x="2832" dy="14"># _zerorpc_doc</tspan><tspan x="2832" dy="14"># _zerorpc_args: 获取函数参数</tspan></text></g>
<g id="n-rep"><rect class="h" x="2856" y="1784" width="162" height="26"/><rect class="a" x="2856" y="1810" width="162" height="27"/><line class="s" x1="2856" y1="1841" x2="3018" y2="1841"/><rect class="m" x="2856" y="1845" width="162" height="25"/><text class="tt" x="2937" y="1801">rep</text><text class="ta" x="2862" y="1828">+ pattern：  ReqRep</text></g>
<g id="n-ReqRep"><rect class="h" x="2531" y="1775" width="218" height="27"/><rect class="a" x="2531" y="1802" width="218" height="27"/><line class="s" x1="2531" y1="1833" x2="2749" y2="1833"/><rect class="m" x="2531" y="1837" width="218" height="139"/><text class="tt" x="2640" y="1793">ReqRep</text><text class="ta" x="2537" y="1819">&lt;REQ -- REP&gt; 请求--应答 通信模式</text><text class="tm"><tspan x="2537" y="1853">+ process_call：  (server端)</tspan><tspan x="2558" dy="14">执行  function 创建 结果 rep_event</tspan><tspan x="2558" dy="14">event.name = u'OK'</tspan><tspan x="2555" dy="14">并 通过 channel.emit_event发送</tspan><tspan x="2537" dy="14">+ accept_answer：  (client端)</tspan><tspan x="2562" dy="14">只有 event.name</tspan><tspan x="2562" dy="14">在 （u'OK'，  u'ERR'）中的才接受</tspan><tspan x="2537" dy="14">+ process_answer: (client 端)</tspan><tspan x="2562" dy="14">接受服务端返回的结果</tspan></text></g>
<g id="n-ReqStream"><rect class="h" x="2763" y="1942" width="243" height="26"/><rect class="a" x="2763" y="1968" width="243" height="44"/><line class="s" x1="2763" y1="2016" x2="3006" y2="2016"/><rect class="m" x="2763" y="2020" width="243" height="323"/><text class="tt" x="2884" y="1959">ReqStream</text><text class="ta"><tspan x="2769" y="1986">&lt;REQ -- ROUTER&gt;</tspan><tspan x="2769" dy="14">模仿 grpc 中的stream 流式响应</tspan></text><text class="tm" clip-path="url(#c6)"><tspan x="2769" y="2038">+ process_call：  (server端)</tspan><tspan x="2789" dy="14">执行 function 是一个迭代器或生成器</tspan><tspan x="2789" dy="14">获取每步得到的结果，然后通过</tspan><tspan x="2789" dy="14">channel.emit 创建event并发送，</tspan><tspan x="2789" dy="14">event.name = u'STREAM'；</tspan><tspan x="2789" dy="14">当 function 的所有结果发送完毕后，</tspan><tspan x="2789" dy="14">创建一个空 event，</tspan><tspan x="2789" dy="14">name=u'START_DONE'</tspan><tspan x="2789" dy="14">标识传输完毕。</tspan><tspan x="2769" dy="28">+ accept_answer：  (client端)</tspan><tspan x="2789" dy="14">只有 event.name</tspan><tspan x="2789" dy="14">在 （u'STREAM'，  u'STRAM_DONE'）</tspan><tspan x="2789" dy="14">中的才接受</tspan><tspan x="2769" dy="14">+ process_answer: (client 端)</tspan><tspan x="2789" dy="14">接受服务端返回的结果，</tspan><tspan x="2789" dy="14">返回一个 iterator</tspan><tspan x="2786" dy="14">+ is_stream_done：  判断传输是否结束了</tspan><tspan x="2786" dy="14">channel.on_close_if = is_stream_done</tspan><tspan x="2800" dy="14">给予channel关闭的条件</tspan><tspan x="2786" dy="14">+ iterator()</tspan></text></g>
<g id="n-stream"><rect class="h" x="3089" y="1932" width="163" height="26"/><rect class="a" x="3089" y="1958" width="163" height="27"/><line class="s" x1="3089" y1="1989" x2="3252" y2="1989"/><rect class="m" x="3089" y="1993" width="163" height="25"/><text class="tt" x="3170" y="1949">stream</text><text class="ta" x="3095" y="1976">+ pattern：ReqStream</text></g>
<g id="n-Classname"><rect class="h" x="1041" y="2530" width="159" height="27"/><rect class="a" x="1041" y="2557" width="159" height="26"/><line class="s" x1="1041" y1="2587" x2="1200" y2="2587"/><rect class="m" x="1041" y="2591" width="159" height="25"/><text class="tt" x="1120" y="2548">Classname</text><text class="ta" x="1047" y="2575">+ field: type</text><text class="tm" x="1047" y="2608">+ method(type): type</text></g>

<!-- server boot text -->
<g id="server-flow">
<text x="1771" y="1807" style="font-family:'Liberation Serif','Noto Sans CJK SC',serif;font-size:29px;font-weight:bold">Server 启动流程：</text>
<text class="bt" x="1771" y="1850">Server 继承自 <tspan class="r">SocketBase</tspan> 和 <tspan class="r">ServerBase</tspan>：</text>
<text class="bt" x="1771" y="1868">1、首先初始化 <tspan class="r">SocketBase</tspan>：</text>
<text class="bt" x="1789" y="1887">1&gt; 实例化 <tspan class="r">Context</tspan>：定义了 msgid 范围、注册中间件（钩子）、<tspan class="r">zmq.socket</tspan></text>
<text class="bt" x="1789" y="1904">2&gt; 实例化 <tspan class="r">Events</tspan>：来管理所有 event</text>
<text class="bt" x="1774" y="1922">2、然后初始化 <tspan class="r">ServerBase</tspan>：</text>
<text class="bt" x="1789" y="1940">2&gt; 实例化 <tspan class="r">ChannelMultiplexer</tspan>(channel) 作为 Server 的多路复用器（<tspan class="r">channel</tspan> 是 <tspan class="r">SocketBase</tspan> 实例</text>
<text class="bt" x="1771" y="1958">化的 events）；</text>
<rect x="1805" y="1970" width="16" height="16" rx="2" fill="#5b9ee6"/><text x="1813" y="1983" text-anchor="middle" style="font-size:13px;fill:#fff">1</text>
<text class="bt" x="1828" y="1983">如果支持接收数据 并且 没有忽略广播，则创建 <tspan class="r">_channel_dispatcher</tspan> 频道调度器 协程，</text>
<text class="bt" x="1771" y="2002"><tspan class="r">_channel_dispatcher</tspan> 接收没有 <tspan class="r">channel_id</tspan> 的 <tspan class="r">initial_event</tspan> 和 包含 <tspan class="r">channel_id</tspan> 的 event并分发到与</text>
<text class="bt" x="1771" y="2020">channel_id 相对应的 channel 消息队列中；</text>
<rect x="1805" y="2034" width="16" height="16" rx="2" fill="#5b9ee6"/><text x="1813" y="2047" text-anchor="middle" style="font-size:13px;fill:#fff">2</text>
<text class="bt" x="1828" y="2047"><tspan class="r">channel</tspan> 由 <tspan class="r">ChannelMultiplexer</tspan> 来创建；</text>
<text class="bt" x="1792" y="2072">3&gt; 使用 `<tspan class="r">_filter_methods</tspan>` 来过滤掉 methods 中的属性以及私有方法，过滤后 methods 有类变</text>
<text class="bt" x="1771" y="2090">为字典类型；</text>
<text class="bt" x="1792" y="2116">4&gt; 使用 `<tspan class="r">_inject_builtins</tspan>` 注入一些辅助函数（都以 `<tspan class="r">_</tspan>` 开头），比如 `<tspan class="r">_zerorpc_list</tspan>`、</text>
<text class="bt" x="1771" y="2134">`<tspan class="r">_zerorpc_name</tspan>`、`<tspan class="r">_zerorpc_args</tspan>`等；</text>
<text class="bt" x="1792" y="2160">5&gt; <tspan class="r">run()</tspan> 是服务的开始，创建协程来执行 `<tspan class="r">_acceptor</tspan>` 方法（死循环）来接收 `<tspan class="r">initial_event</tspan>` (来</text>
<text class="bt" x="1771" y="2178">自 <tspan class="r">ChannelMultiplexer</tspan>)；</text>
<text class="bt" x="1789" y="2204">6&gt; 每接收到一个 `<tspan class="r">initial_event</tspan>` 就创建一个协程（`<tspan class="r">_async_task</tspan>`方法）来处理 `<tspan class="r">initial_event</tspan>`</text>
<text class="bt" x="1789" y="2230">7&gt; 在 `<tspan class="r">_async_task</tspan>` 中根据 <tspan class="r">initial_event</tspan> 来 创建 channel，发送心跳接收心跳帧，执行 function</text>
<text class="bt" x="1771" y="2248">并发动结果。</text>
</g>

<!-- connectors -->
<g id="connectors">
<path class="e" d="M1303,70 H1192 V131" marker-end="url(#ac)"/>
<path class="e" d="M1405,72 H1516 V131" marker-end="url(#ac)"/>
<path class="e" d="M1293,240 H1257 V321" marker-end="url(#ac)"/>
<path class="e" d="M1405,247 H1448 V321" marker-end="url(#ac)"/>
<path class="e" d="M1152,270 V287 Q1152,295 1160,295 H1188 Q1196,295 1196,303 V321" marker-end="url(#tri)"/>
<text class="lb" x="1174" y="296">继承</text>
<path class="e" d="M1556,270 V287 Q1556,295 1548,295 H1518 Q1510,295 1510,303 V321" marker-end="url(#tri)"/>
<text class="lb" x="1533" y="296">继承</text>
<path class="e" d="M1348,520 V831" marker-start="url(#fd)" marker-end="url(#oa)"/>
<text class="lb" x="1348" y="664">组合</text>
<path class="e" d="M961,618 H1776" marker-end="url(#oa)"/>
<text class="lb" x="1311" y="618">组合</text>
<path class="e" d="M815,436 V540" marker-end="url(#tri)"/>
<text class="lb" x="815" y="489">继承</text>
<path class="e" d="M868,540 V500 Q868,492 876,492 H942 Q950,492 950,500 V595 Q950,603 942,603 H920" marker-start="url(#od)" marker-end="url(#oa)"/>
<text x="903" y="484" text-anchor="middle" style="font-size:13px">instance</text>
<path class="e" d="M650,671 V696 H710" marker-end="url(#ac)"/>
<path class="e" d="M1170,877 H1281" marker-start="url(#fd)" marker-end="url(#oa)"/>
<text class="lb" x="1226" y="877">组合</text>
<path class="e" d="M1551,886 H1681" marker-start="url(#fd)" marker-end="url(#oa)"/>
<text class="lb" x="1618" y="886">组合</text>
<path class="e" d="M2030,870 H2170" marker-start="url(#fd)" marker-end="url(#oa)"/>
<text class="lb" x="2100" y="870">组合</text>
<path class="e" d="M2500,870 H2605" marker-start="url(#fd)" marker-end="url(#oa)"/>
<text class="lb" x="2553" y="870">组合</text>
<path class="e" d="M2500,933 H2537 Q2545,933 2545,941 V1320 Q2545,1328 2553,1328 H2954 Q2962,1328 2962,1320 V941 Q2962,933 2970,933 H3040" marker-start="url(#fd)" marker-end="url(#oa)"/>
<text class="lb" x="2710" y="1328">组合</text>
<path class="ek" d="M1856,730 V831" marker-end="url(#tri)"/>
<path class="ek" d="M1856,780 H1424 Q1416,780 1416,788 V831" marker-end="url(#tri)"/>
<path class="ek" d="M1856,780 H2327 Q2335,780 2335,788 V831" marker-end="url(#tri)"/>
<path class="ek" d="M1856,780 H2762 Q2770,780 2770,788 V831" marker-end="url(#tri)"/>
<path class="ek" d="M1856,780 H3212 Q3220,780 3220,788 V831" marker-end="url(#tri)"/>
<text class="lb" x="1635" y="780">继承</text>
<text class="lb" x="1856" y="782">继承</text>
<text class="lb" x="2095" y="780">继承</text>
<text class="lb" x="2312" y="780">继承</text>
<text class="lb" x="2538" y="780">继承</text>
<path class="e" d="M803,1110 V1225 Q803,1233 811,1233 H1102 Q1110,1233 1110,1241 V1411" marker-end="url(#oa)"/>
<text class="lb" x="957" y="1233">组合</text>
<path class="e" d="M1281,1226 H1199 Q1191,1226 1191,1234 V1411" marker-start="url(#fd)" marker-end="url(#oa)"/>
<text class="lb" x="1195" y="1262">组合</text>
<path class="ek" d="M718,1588 V1672 Q718,1680 710,1680 H159 Q151,1680 151,1688 V1790" marker-end="url(#tri)"/>
<path class="ek" d="M718,1680 H589 Q581,1680 581,1688 V1790" marker-end="url(#tri)"/>
<path class="ek" d="M718,1680 H983 Q991,1680 991,1688 V1775" marker-end="url(#tri)"/>
<path class="ek" d="M1150,1590 V1672 Q1150,1680 1142,1680 H718"/>
<text class="lb" x="640" y="1680">继承</text>
<text class="lb" x="852" y="1680">继承</text>
<text class="lb" x="1067" y="1680">继承</text>
<path class="e" d="M1150,1680 V1732 Q1150,1740 1158,1740 H1532 Q1540,1740 1540,1748 V1915" marker-end="url(#tri)"/>
<text class="lb" x="1357" y="1740">继承</text>
<path class="e" d="M2136,1648 V1732 Q2136,1740 2128,1740 H1689 Q1681,1740 1681,1748 V1915" marker-end="url(#tri)"/>
<text class="lb" x="1865" y="1740">继承</text>
<path class="e" d="M149,2010 V2141" marker-end="url(#tri)"/>
<text class="lb" x="149" y="2078">继承</text>
<path class="e" d="M580,2000 V2133" marker-end="url(#tri)"/>
<text class="lb" x="580" y="2068">继承</text>
<path class="e" d="M156,2390 V2271" marker-end="url(#ac)"/>
<path class="e" d="M580,2400 V2220" marker-end="url(#ac)"/>
<path class="e" d="M1921,1397 H1940 V1482 H1961" marker-end="url(#ac)"/>
<path class="e" d="M1761,1442 H1861 V1499 H1961" marker-end="url(#ac)"/>
<path class="e" d="M2754,1530 H2825" marker-end="url(#ac)"/>
<path class="ek" d="M2937,1686 V1784" marker-end="url(#tri)"/>
<text class="lb" x="2937" y="1735">继承</text>
<path class="ek" d="M2937,1734 H3163 Q3171,1734 3171,1742 V1932" marker-end="url(#tri)"/>
<text class="lb" x="3128" y="1734">继承</text>
<path class="e" d="M2749,1824 H2856" marker-start="url(#fd)" marker-end="url(#oa)"/>
<text class="lb" x="2808" y="1824">组合</text>
<path class="e" d="M3006,1975 H3089" marker-start="url(#fd)" marker-end="url(#oa)"/>
<text class="lb" x="3050" y="1975">组合</text>
<path class="e" d="M2575,2055 V2016 H2633 V1976" marker-end="url(#ac)"/>
<path class="e" d="M2691,2098 H2763" marker-end="url(#ac)"/>
<path class="eb" d="M2030,914 H2040 Q2048,914 2048,922 V1271" marker-start="url(#fdb)" marker-end="url(#oab)"/>
<text class="lb" x="2048" y="1068">组合</text>
<path class="eb" d="M2605,968 H2578 Q2570,968 2570,976 V1181 Q2570,1189 2562,1189 H2145 Q2137,1189 2137,1197 V1271" marker-start="url(#fdb)" marker-end="url(#oab)"/>
<path class="eb" d="M3040,988 H3006 Q2998,988 2998,996 V1350 Q2998,1358 2990,1358 H2308 Q2300,1358 2300,1350 V1229 Q2300,1221 2292,1221 H2232 Q2224,1221 2224,1229 V1271" marker-start="url(#fdb)" marker-end="url(#oab)"/>
<text class="lb" x="2798" y="1358">组合</text>
<text class="lb" x="2260" y="1221">组合</text>
<path class="er" d="M1681,1074 H1617 Q1609,1074 1609,1082 V1322 Q1609,1330 1601,1330 H962" marker-start="url(#fdr)" marker-end="url(#oar)"/>
<text class="lb" x="1609" y="1219">组合</text>
<path class="er" d="M2170,1150 H2117 Q2109,1150 2109,1158 V1172 Q2109,1180 2101,1180 H1668 Q1660,1180 1660,1188 V1309 Q1660,1317 1652,1317 H962" marker-start="url(#fdr)" marker-end="url(#oar)"/>
<path class="er" d="M2605,1193 H1649 Q1641,1193 1641,1201 V1299 Q1641,1307 1633,1307 H962" marker-start="url(#fdr)" marker-end="url(#oar)"/>
<text class="lb" x="1822" y="1193">组合</text>
<text class="lb" x="2488" y="1193">组合</text>
<path class="er" d="M3136,1320 V1372 Q3136,1380 3128,1380 H2338 Q2330,1380 2330,1372 V1236 Q2330,1228 2322,1228 H1598 Q1590,1228 1590,1236 V1332 Q1590,1340 1582,1340 H962" marker-start="url(#fdr)" marker-end="url(#oar)"/>
<text class="lb" x="1510" y="1340">组合</text>
<path class="er" d="M2501,1661 H2411 Q2403,1661 2403,1653 V1419 Q2403,1411 2395,1411 H2311" marker-end="url(#oar)"/>
<path class="ek" d="M931,2410 H1124 Q1132,2410 1132,2418 V2515" marker-end="url(#tri)"/>
<text class="lb" x="1085" y="2410">继承</text>
<path class="e" d="M1045,2670 H1200" marker-start="url(#od)" marker-end="url(#oa)"/>
<text class="lb" x="1112" y="2670">instance</text>
<path class="e" d="M1045,2720 H1200" marker-start="url(#fd)" marker-end="url(#oa)"/>
<text class="lb" x="1120" y="2722">组合</text>
<path class="e" d="M1050,2771 H1205" stroke-dasharray="5 4" marker-start="url(#fd)" marker-end="url(#oa)"/>
<text class="lb" x="1128" y="2771">Use</text>
</g>
</svg>
